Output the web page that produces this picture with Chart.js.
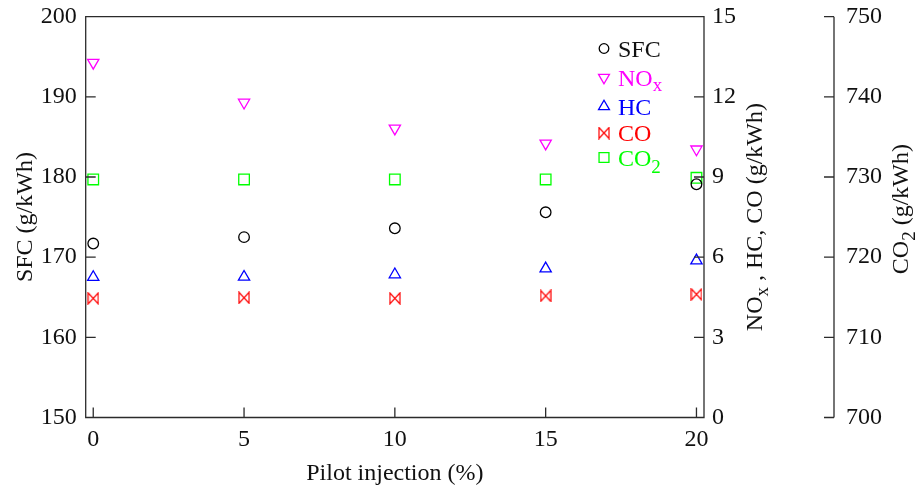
<!DOCTYPE html>
<html>
<head>
<meta charset="utf-8">
<script src="https://cdn.jsdelivr.net/npm/chart.js@4/dist/chart.umd.min.js"></script>
<style>
  html, body { margin: 0; padding: 0; background: #fff; }
  #wrap { width: 917px; height: 490px; }
</style>
</head>
<body>
<div id="wrap"><canvas id="chart" width="917" height="490"></canvas></div>
<script>
// Pilot injection share (%) and measured engine output
const pilotInjection = [0, 5, 10, 15, 20];
const sfcValues = [171.7, 172.5, 173.6, 175.6, 179.1];     // g/kWh, left axis
const noxValues = [13.28, 11.79, 10.82, 10.26, 10.04];     // g/kWh, right axis
const hcValues  = [5.25, 5.26, 5.35, 5.57, 5.87];          // g/kWh, right axis
const coValues  = [4.46, 4.48, 4.46, 4.55, 4.61];          // g/kWh, right axis
const co2Values = [729.7, 729.7, 729.7, 729.7, 729.9];     // g/kWh, outer right axis

// Tick labels for each axis
const xTicks = [0, 5, 10, 15, 20];
const sfcTicks = [150, 160, 170, 180, 190, 200];
const emissionTicks = [0, 3, 6, 9, 12, 15];
const co2Ticks = [700, 710, 720, 730, 740, 750];

const FONT = '"Liberation Serif", "Times New Roman", Times, serif';
const AXIS_COLOR = '#2b2b2b';
const TEXT_COLOR = '#111';
const COLORS = { sfc: '#000000', nox: '#ff00ff', hc: '#0000ff', co: '#ff0000', co2: '#00ff00' };

// Sideways hourglass marker used for CO
function makeBowtie(color) {
  const c = document.createElement('canvas');
  const w = 12, h = 13;
  c.width = w; c.height = h;
  const g = c.getContext('2d');
  g.strokeStyle = color;
  g.lineWidth = 1.2;
  g.beginPath();
  g.moveTo(1, 1); g.lineTo(1, h - 1); g.lineTo(w - 1, 1); g.lineTo(w - 1, h - 1); g.closePath();
  g.stroke();
  return c;
}
const bowtie = makeBowtie(COLORS.co);

const points = (xs, ys) => xs.map((x, i) => ({ x, y: ys[i] }));

function series(label, ys, axis, color, style, radius, rotation) {
  return {
    label,
    data: points(pilotInjection, ys),
    yAxisID: axis,
    pointStyle: style,
    pointRadius: radius,
    pointRotation: rotation || 0,
    pointBorderWidth: 1.3,
    borderColor: color,
    backgroundColor: 'rgba(0,0,0,0)',
    showLine: false,
    clip: false
  };
}

function tickList(list) {
  return scale => { scale.ticks = list.map(v => ({ value: v })); };
}

// Fix a scale's thickness and drop the extra room Chart.js keeps for edge labels
function fixSize(prop, size) {
  return scale => {
    scale[prop] = size;
    scale.paddingTop = 0; scale.paddingBottom = 0;
    scale.paddingLeft = 0; scale.paddingRight = 0;
  };
}

const tickFont = { family: FONT, size: 24 };

// Draw a run of text pieces (with subscripts) starting or centred at a point
function drawRich(ctx, parts, x, y, opts) {
  ctx.save();
  ctx.translate(x, y);
  if (opts.rotate) ctx.rotate(opts.rotate);
  ctx.fillStyle = opts.color;
  ctx.textBaseline = 'alphabetic';
  ctx.textAlign = 'left';
  let total = 0;
  parts.forEach(p => { ctx.font = p.font; p.w = ctx.measureText(p.t).width; total += p.w; });
  let cx = opts.center ? -total / 2 : 0;
  parts.forEach(p => { ctx.font = p.font; ctx.fillText(p.t, cx, p.dy || 0); cx += p.w; });
  ctx.restore();
}

const MAIN = '24px ' + FONT;
const SUB = '19px ' + FONT;

function drawMarker(ctx, style, x, y, r, rot, color) {
  ctx.save();
  ctx.strokeStyle = color;
  ctx.lineWidth = 1.3;
  ctx.beginPath();
  if (style === 'circle') {
    ctx.arc(x, y, r, 0, Math.PI * 2);
  } else if (style === 'triangle') {
    const a = rot * Math.PI / 180;
    for (let k = 0; k < 3; k++) {
      const t = a + k * 2 * Math.PI / 3;
      const px = x + Math.sin(t) * r, py = y - Math.cos(t) * r;
      if (k === 0) ctx.moveTo(px, py); else ctx.lineTo(px, py);
    }
    ctx.closePath();
  } else if (style === 'rect') {
    const s = r * Math.SQRT1_2;
    ctx.rect(x - s, y - s, 2 * s, 2 * s);
  }
  ctx.stroke();
  if (style instanceof HTMLCanvasElement) {
    ctx.drawImage(style, x - style.width / 2, y - style.height / 2);
  }
  ctx.restore();
}

const frame = {
  id: 'frame',
  afterDraw(chart) {
    const { ctx, chartArea: a, scales } = chart;
    const sx = scales.x, sl = scales.ySfc, se = scales.yEm, sc = scales.yCo2;
    const T = 10;
    ctx.save();
    ctx.strokeStyle = AXIS_COLOR;
    ctx.lineWidth = 1.3;
    ctx.beginPath();
    ctx.rect(a.left, a.top, a.right - a.left, a.bottom - a.top);
    xTicks.forEach(v => { const p = sx.getPixelForValue(v); ctx.moveTo(p, a.bottom); ctx.lineTo(p, a.bottom - T); });
    sfcTicks.forEach(v => { const p = sl.getPixelForValue(v); ctx.moveTo(a.left, p); ctx.lineTo(a.left + T, p); });
    emissionTicks.forEach(v => { const p = se.getPixelForValue(v); ctx.moveTo(a.right, p); ctx.lineTo(a.right - T, p); });
    const cx = sc.left;
    ctx.moveTo(cx, sc.getPixelForValue(co2Ticks[0]));
    ctx.lineTo(cx, sc.getPixelForValue(co2Ticks[co2Ticks.length - 1]));
    co2Ticks.forEach(v => { const p = sc.getPixelForValue(v); ctx.moveTo(cx, p); ctx.lineTo(cx - T, p); });
    ctx.stroke();
    ctx.restore();

    // Axis titles
    const midY = (a.top + a.bottom) / 2;
    drawRich(ctx, [{ t: 'SFC (g/kWh)', font: MAIN }], 31.5, midY, { rotate: -Math.PI / 2, center: true, color: TEXT_COLOR });
    drawRich(ctx, [
      { t: 'NO', font: MAIN }, { t: 'x', font: SUB, dy: 6 }, { t: ' , HC, CO (g/kWh)', font: MAIN }
    ], 761.5, midY, { rotate: -Math.PI / 2, center: true, color: TEXT_COLOR });
    drawRich(ctx, [
      { t: 'CO', font: MAIN }, { t: '2', font: SUB, dy: 7 }, { t: ' (g/kWh)', font: MAIN }
    ], 908, midY - 8, { rotate: -Math.PI / 2, center: true, color: TEXT_COLOR });
    drawRich(ctx, [{ t: 'Pilot injection (%)', font: MAIN }], (a.left + a.right) / 2, 480, { center: true, color: TEXT_COLOR });

    // Legend
    const rows = [
      { style: 'circle', r: 4.8, rot: 0, color: COLORS.sfc, y: 48.5, parts: [{ t: 'SFC', font: MAIN }] },
      { style: 'triangle', r: 6.3, rot: 180, color: COLORS.nox, y: 77.5, parts: [{ t: 'NO', font: MAIN }, { t: 'x', font: SUB, dy: 5 }] },
      { style: 'triangle', r: 6.3, rot: 0, color: COLORS.hc, y: 106.5, parts: [{ t: 'HC', font: MAIN }] },
      { style: bowtie, r: 6, rot: 0, color: COLORS.co, y: 133, parts: [{ t: 'CO', font: MAIN }] },
      { style: 'rect', r: 7, rot: 0, color: COLORS.co2, y: 157.5, parts: [{ t: 'CO', font: MAIN }, { t: '2', font: SUB, dy: 7 }] }
    ];
    rows.forEach(row => {
      drawMarker(ctx, row.style, 604, row.y, row.r, row.rot, row.color);
      drawRich(ctx, row.parts, 618, row.y + 8, { color: row.color === COLORS.sfc ? TEXT_COLOR : row.color });
    });
  }
};

new Chart(document.getElementById('chart'), {
  type: 'scatter',
  data: {
    datasets: [
      series('SFC', sfcValues, 'ySfc', COLORS.sfc, 'circle', 5.3),
      series('NOx', noxValues, 'yEm', COLORS.nox, 'triangle', 6.5, 180),
      series('HC', hcValues, 'yEm', COLORS.hc, 'triangle', 6.5),
      series('CO', coValues, 'yEm', COLORS.co, bowtie, 6),
      series('CO2', co2Values, 'yCo2', COLORS.co2, 'rect', 7.5)
    ]
  },
  options: {
    responsive: false,
    animation: false,
    events: [],
    layout: { padding: { top: 16.7, left: 0, right: 0, bottom: 0 } },
    plugins: { legend: { display: false }, tooltip: { enabled: false } },
    scales: {
      x: {
        type: 'linear', position: 'bottom', min: -0.25, max: 20.25,
        afterBuildTicks: tickList(xTicks),
        grid: { display: false, drawTicks: false },
        border: { display: false },
        ticks: { font: tickFont, color: TEXT_COLOR, padding: 8, maxRotation: 0 },
        afterFit: fixSize('height', 72.5)
      },
      ySfc: {
        type: 'linear', position: 'left', min: 150, max: 200,
        afterBuildTicks: tickList(sfcTicks),
        grid: { display: false, drawTicks: false },
        border: { display: false },
        ticks: { font: tickFont, color: TEXT_COLOR, padding: 9 },
        afterFit: fixSize('width', 85.7)
      },
      yEm: {
        type: 'linear', position: 'right', min: 0, max: 15, weight: 1,
        afterBuildTicks: tickList(emissionTicks),
        grid: { display: false, drawTicks: false },
        border: { display: false },
        ticks: { font: tickFont, color: TEXT_COLOR, padding: 8 },
        afterFit: fixSize('width', 130)
      },
      yCo2: {
        type: 'linear', position: 'right', min: 700, max: 750, weight: 2,
        afterBuildTicks: tickList(co2Ticks),
        grid: { display: false, drawTicks: false },
        border: { display: false },
        ticks: { font: tickFont, color: TEXT_COLOR, padding: 12 },
        afterFit: fixSize('width', 83)
      }
    }
  },
  plugins: [frame]
});
</script>
</body>
</html>
